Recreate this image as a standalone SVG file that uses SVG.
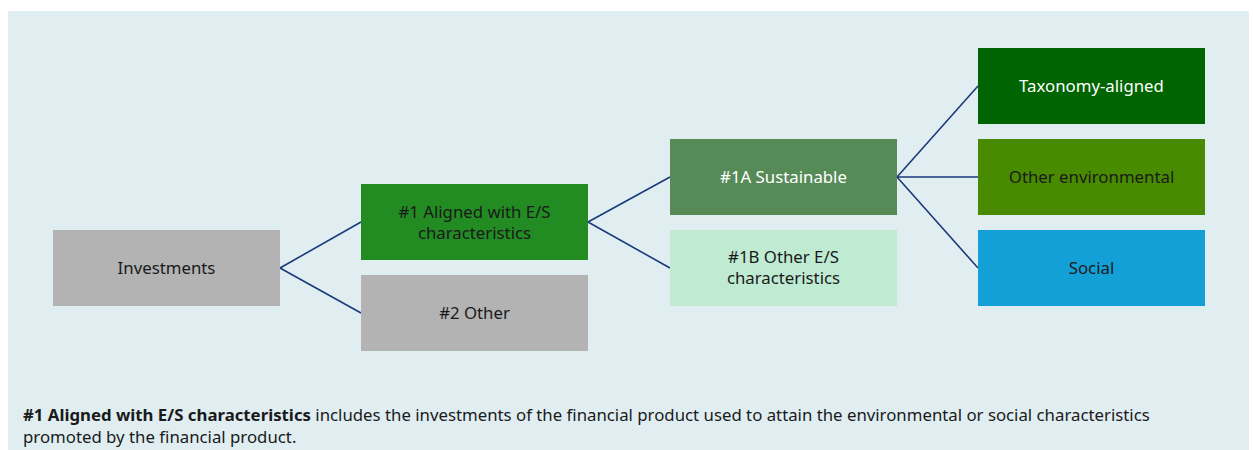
<svg xmlns="http://www.w3.org/2000/svg" width="1253" height="450" viewBox="0 0 1253 450">
<style>
.lbl{font-family:"Noto Sans","Liberation Sans",sans-serif;font-size:16.8px;text-anchor:middle;dominant-baseline:central;fill:#1a1a1a}
.w{fill:#ffffff}
.con{stroke:#1b3a7a;stroke-width:1.6;fill:none}
.foot{font-family:"Noto Sans","Liberation Sans",sans-serif;font-size:16.8px;fill:#1a1a1a}
</style>
<rect x="0" y="0" width="1253" height="450" fill="#ffffff"/>
<rect x="8" y="11" width="1241" height="439" fill="#e0eef2"/>
<g id="connectors">
<path class="con" d="M280 268 L361 222 M280 268 L361 313"/>
<path class="con" d="M588 222 L670 177 M588 222 L670 268"/>
<path class="con" d="M897 177 L978 86 M897 177 L978 177 M897 177 L978 268"/>
</g>
<g id="investments">
<rect x="53" y="230" width="227" height="76" fill="#b3b3b3"/>
<text class="lbl" x="166.5" y="267">Investments</text>
</g>
<g id="aligned">
<rect x="361" y="184" width="227" height="76" fill="#228b22"/>
<text class="lbl" x="474.5" y="211">#1 Aligned with E/S</text>
<text class="lbl" x="474.5" y="232">characteristics</text>
</g>
<g id="other">
<rect x="361" y="275" width="227" height="76" fill="#b3b3b3"/>
<text class="lbl" x="474.5" y="312">#2 Other</text>
</g>
<g id="sustainable">
<rect x="670" y="139" width="227" height="76" fill="#568b57"/>
<text class="lbl w" x="783.5" y="176">#1A Sustainable</text>
</g>
<g id="other-es">
<rect x="670" y="230" width="227" height="76" fill="#c0ebd3"/>
<text class="lbl" x="783.5" y="256">#1B Other E/S</text>
<text class="lbl" x="783.5" y="277">characteristics</text>
</g>
<g id="taxonomy">
<rect x="978" y="48" width="227" height="76" fill="#006400"/>
<text class="lbl w" x="1091.5" y="85">Taxonomy-aligned</text>
</g>
<g id="other-env">
<rect x="978" y="139" width="227" height="76" fill="#488a00"/>
<text class="lbl" x="1091.5" y="176">Other environmental</text>
</g>
<g id="social">
<rect x="978" y="230" width="227" height="76" fill="#13a0d6"/>
<text class="lbl" x="1091.5" y="267">Social</text>
</g>
<g id="footnote">
<text class="foot" x="23" y="421"><tspan font-weight="bold">#1 Aligned with E/S characteristics</tspan> includes the investments of the financial product used to attain the environmental or social characteristics</text>
<text class="foot" x="23" y="443">promoted by the financial product.</text>
</g>
</svg>
